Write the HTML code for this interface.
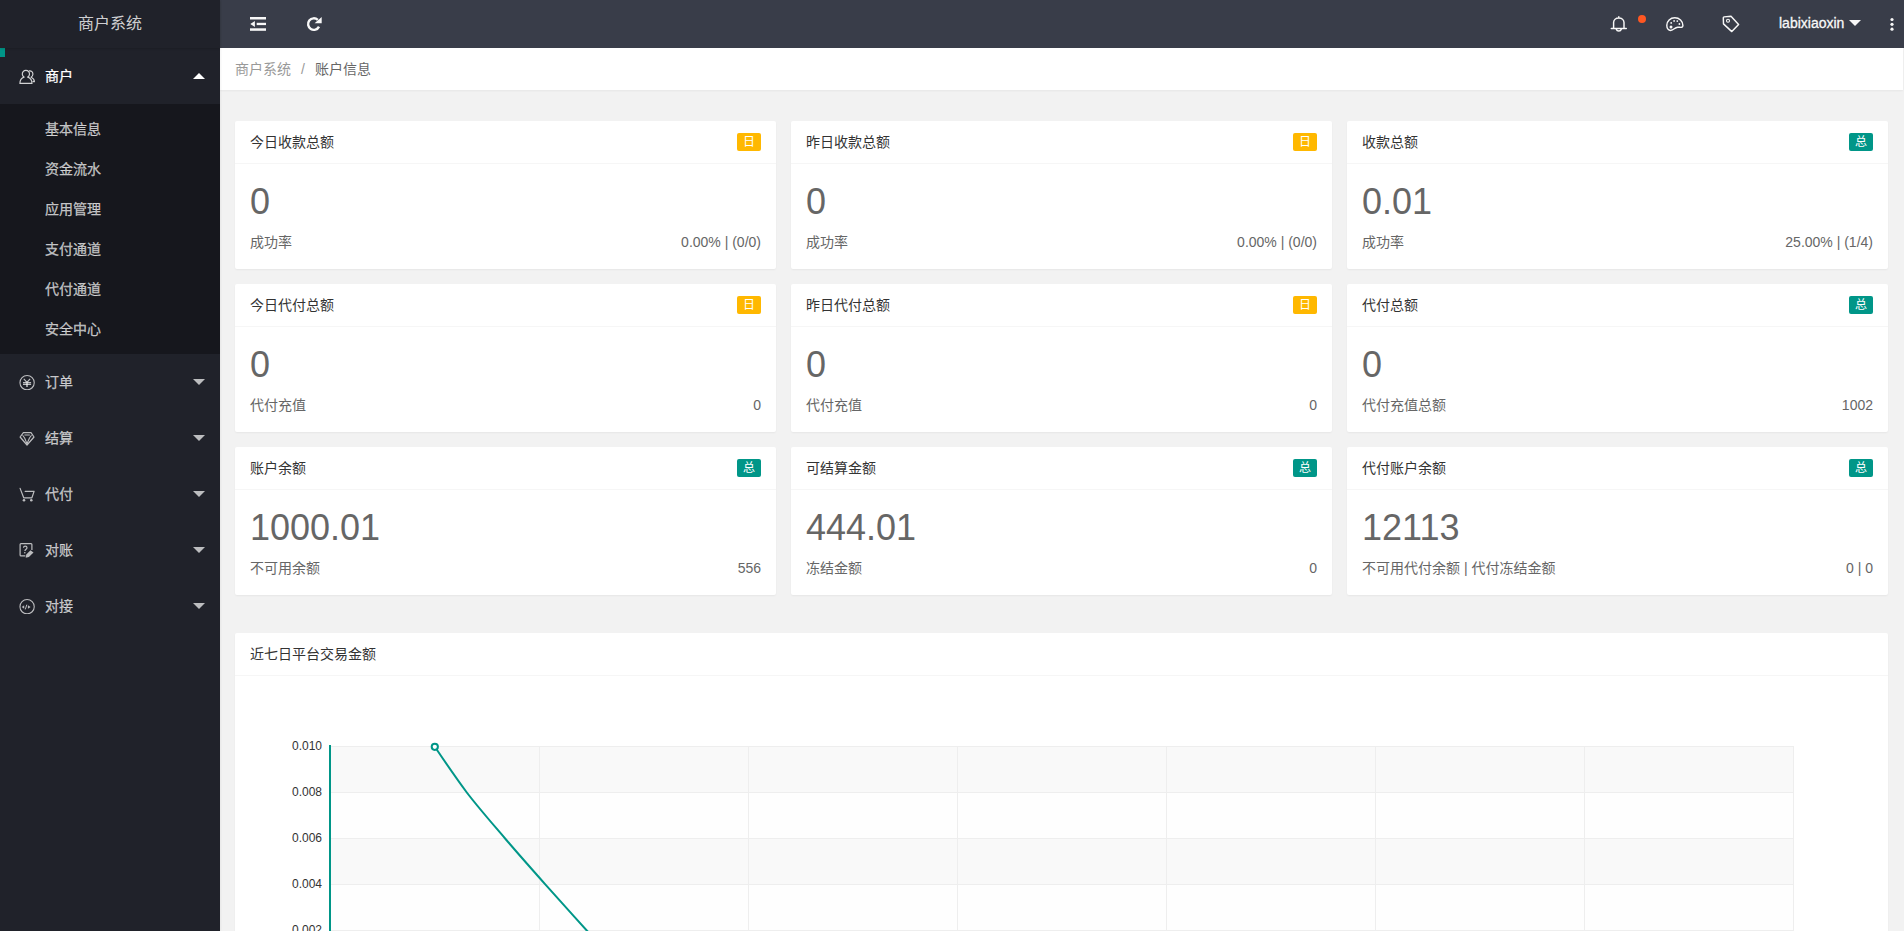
<!DOCTYPE html>
<html lang="zh-CN">
<head>
<meta charset="utf-8">
<title>商户系统</title>
<style>
*{box-sizing:border-box;margin:0;padding:0}
html,body{width:1904px;height:931px;overflow:hidden}
body{font-family:"Liberation Sans","Noto Sans CJK SC",sans-serif;font-size:14px;color:#333;background:#f2f2f2;position:relative;line-height:24px}
a{text-decoration:none;color:inherit}
ul{list-style:none}
/* sidebar */
.side{-webkit-text-stroke:0.25px;box-shadow:1px 0 2px 0 rgba(0,0,0,.05);position:absolute;left:0;top:0;width:220px;height:931px;background:#20222A;color:rgba(255,255,255,.7);z-index:5}
.logo{-webkit-text-stroke:0;position:absolute;left:0;top:0;width:220px;height:48px;line-height:48px;text-align:center;color:rgba(255,255,255,.8);font-size:16px;background:#20222A;box-shadow:0 1px 2px 0 rgba(0,0,0,.15);z-index:2}
.navbar{position:absolute;left:0;top:48px;width:5px;height:9px;background:#009688}
.menu{position:absolute;left:0;top:48px;width:220px}
.menu .item>a{display:block;position:relative;height:56px;line-height:56px;padding-left:45px;color:rgba(255,255,255,.7)}
.menu .item.open>a{color:#fff}
.menu .item>a svg{position:absolute;left:19px;top:20px;width:16px;height:16px}
.more{position:absolute;right:15px;top:50%;margin-top:-3px;width:0;height:0;border:6px solid transparent;border-top-color:rgba(255,255,255,.7)}
.open .more{margin-top:-9px;border-top-color:transparent;border-bottom-color:#fff}
.sub{background:rgba(0,0,0,.3);padding:5px 0}
.sub a{display:block;height:40px;line-height:40px;padding-left:45px;color:rgba(255,255,255,.7)}
/* header */
.header{position:absolute;left:220px;top:0;width:1684px;height:48px;background:#393D49;color:#f8f8f8}
.header svg{position:absolute}
.uname{-webkit-text-stroke:0.3px;position:absolute;left:1559px;top:0;line-height:46px;font-size:14px;color:#f8f8f8}
.utri{position:absolute;left:1629px;top:20px;width:0;height:0;border:6px solid transparent;border-top-color:#f8f8f8}
.dot{position:absolute;left:1418px;top:15px;width:8px;height:8px;border-radius:50%;background:#FF5722}
/* breadcrumb */
.crumb{position:absolute;left:220px;top:48px;width:1683px;height:42px;line-height:42px;background:#fff;padding-left:15px;box-shadow:0 1px 2px 0 rgba(0,0,0,.05);color:#999}
.crumb span.sep{margin:0 10px;color:#999}
.crumb cite{font-style:normal;color:#666}
/* cards */
.card{position:absolute;width:541px;height:148px;background:#fff;border-radius:2px;box-shadow:0 1px 2px 0 rgba(0,0,0,.05)}
.card .hd{position:relative;height:43px;line-height:42px;padding:0 15px;border-bottom:1px solid #f6f6f6;color:#333;font-size:14px}
.badge{position:absolute;right:15px;top:50%;margin-top:-9px;height:18px;line-height:18px;padding:0 6px;font-size:12px;color:#fff;border-radius:2px;text-align:center}
.bg-o{background:#FFB800}
.bg-g{background:#009688}
.card .bd{position:relative;padding:15px;line-height:24px}
.big{font-size:36px;color:#666;line-height:36px;padding:5px 0 10px;white-space:nowrap}
.bd p.sm{color:#666}
.bd p.sm span{position:absolute;right:15px;font-size:14px}
.chart{position:absolute;left:235px;top:633px;width:1653px;height:330px;background:#fff;border-radius:2px;box-shadow:0 1px 2px 0 rgba(0,0,0,.05)}
.chart .hd{height:43px;line-height:42px;padding:0 15px;border-bottom:1px solid #f6f6f6;color:#333}
.chart svg{position:absolute;left:0;top:43px}
</style>
</head>
<body>
<div class="side">
  <div class="logo">商户系统</div>
  <div class="navbar"></div>
  <ul class="menu">
    <li class="item open"><a><svg viewBox="0 0 16 16" fill="none" stroke="rgba(255,255,255,.8)" stroke-width="1.15" stroke-linejoin="round" stroke-linecap="round"><path d="M5.1 9.1A3.6 3.6 0 1 1 8.7 9.1C11.4 10 13 12.4 13 15.4H0.9C0.9 12.4 2.4 10 5.1 9.1Z"/><path d="M10.3 2.9C12.4 2.6 14 4.2 13.9 6.3C13.8 7.7 13.1 8.7 12.1 9.3C14.1 10.2 15.3 11.7 15.4 13.6H14"/></svg>商户<i class="more"></i></a>
      <div class="sub"><a>基本信息</a><a>资金流水</a><a>应用管理</a><a>支付通道</a><a>代付通道</a><a>安全中心</a></div>
    </li>
    <li class="item"><a><svg viewBox="0 0 16 16" fill="none" stroke="currentColor" stroke-width="1.1"><circle cx="8.1" cy="8.7" r="7.15"/><path d="M4.8 4.9L8 8.3L11.1 4.9M4 8.7H12.1M4 10.4H12.1" stroke-width="1.2"/><path d="M8 8.3V13" stroke-width="1.5"/></svg>订单<i class="more"></i></a></li>
    <li class="item"><a><svg viewBox="0 0 16 16" fill="none" stroke="currentColor" stroke-width="1.2" stroke-linejoin="round"><path d="M4.4 2.7H12L15 7L8 15L1.1 7Z"/><path d="M3.6 5.2L5.6 8L8 13.6L10.5 8L12.5 5.2M5.4 5H10.8" stroke-width="1.1"/></svg>结算<i class="more"></i></a></li>
    <li class="item"><a><svg viewBox="0 0 16 16" fill="none" stroke="currentColor" stroke-width="1.2" stroke-linejoin="round" stroke-linecap="round"><path d="M1.1 2.4L4.7 11.8H12.9L15.1 5.4H6.2"/><circle cx="5" cy="14.2" r="1.3" fill="currentColor" stroke="none"/><circle cx="12.3" cy="14.2" r="1.3" fill="currentColor" stroke="none"/></svg>代付<i class="more"></i></a></li>
    <li class="item"><a><svg viewBox="0 0 16 16" fill="none" stroke="currentColor" stroke-width="1.2" stroke-linejoin="round"><path d="M12.9 8V2.6Q12.9 1.7 12 1.7H2Q1.1 1.7 1.1 2.6V12.9Q1.1 13.8 2 13.8H6.4"/><path d="M11.5 8.3L14.5 10.4L9.9 14.9L6.7 15.8L7.3 12.5Z" fill="currentColor" stroke="none"/><path d="M4.5 5.8C4.5 3.6 8 3.6 8 5.8C8 7.2 6 7.2 5.9 9" stroke-width="1.2"/><circle cx="5.8" cy="10.7" r="0.8" fill="currentColor" stroke="none"/></svg>对账<i class="more"></i></a></li>
    <li class="item"><a><svg viewBox="0 0 16 16" fill="none" stroke="currentColor" stroke-width="1.1"><circle cx="8.1" cy="8.7" r="7.15"/><path d="M5.2 7.3L2.7 9.1L5.2 10.8Z M8.9 7.3L11.6 9.1L8.9 10.8Z" fill="currentColor" stroke="none"/><path d="M7.8 6.7L6.3 11.4" stroke-width="1"/></svg>对接<i class="more"></i></a></li>
  </ul>
</div>
<div class="header">
<svg width="1684" height="48" viewBox="220 0 1684 48" style="left:0;top:0" fill="none" stroke="#f8f8f8">
  <g fill="#f8f8f8" stroke="none">
    <rect x="250" y="17" width="16" height="2.5"/><rect x="256.7" y="22.8" width="9.3" height="2.3"/><rect x="250" y="28.3" width="16" height="2.5"/>
    <path d="M250.3 24L254.9 21V27Z"/>
    <path d="M321.7 17.1V23.3H314.6Z"/>
    <circle cx="1892" cy="19.5" r="1.6"/><circle cx="1892" cy="24.3" r="1.6"/><circle cx="1892" cy="29.2" r="1.6"/>
    <circle cx="1671.2" cy="22.9" r="0.9"/><circle cx="1674.1" cy="20.9" r="0.9"/><circle cx="1677.3" cy="21.1" r="0.9"/><circle cx="1679.4" cy="24" r="0.9"/><circle cx="1671" cy="26.9" r="1.5"/>
  </g>
  <path d="M317.8 19.9A5.75 5.75 0 1 0 319 26.6" stroke-width="2.4"/>
  <g stroke-width="1.45" stroke-linejoin="round" stroke-linecap="round">
    <path d="M1611.3 28.4H1626.3M1613.6 28.4V22.6C1613.6 19.8 1615.9 18 1618.8 18C1621.7 18 1624 19.8 1624 22.6V28.4M1618.8 18V16.8M1616.3 29.2A2.6 2.6 0 0 0 1621.3 29.2"/>
    <path d="M1682.900 25.500C1682.900 21 1679.300 17.700 1674.800 17.700C1670.300 17.700 1666.800 21.200 1666.800 25.300C1666.800 28.300 1668.600 30.400 1670.600 30.400C1674 30.400 1674.400 27.400 1677.700 27.200C1680 27.100 1682.900 28.300 1682.900 25.500Z"/>
    <path d="M1724.200 16.900L1731 16.300L1738.600 24.400L1731.800 31.600L1723.500 23.900L1723.300 17.800Q1723.300 17 1724.200 16.900Z"/>
    <circle cx="1728" cy="20.800" r="1.500" stroke-width="1.100"/>
  </g>
</svg>
  <span class="dot"></span>
  <span class="uname">labixiaoxin</span><i class="utri"></i>
</div>
<div class="crumb">商户系统<span class="sep">/</span><cite>账户信息</cite></div>

<div class="card" style="left:235px;top:121px"><div class="hd">今日收款总额<span class="badge bg-o">日</span></div><div class="bd"><p class="big">0</p><p class="sm">成功率<span>0.00% | (0/0)</span></p></div></div>
<div class="card" style="left:791px;top:121px"><div class="hd">昨日收款总额<span class="badge bg-o">日</span></div><div class="bd"><p class="big">0</p><p class="sm">成功率<span>0.00% | (0/0)</span></p></div></div>
<div class="card" style="left:1347px;top:121px"><div class="hd">收款总额<span class="badge bg-g">总</span></div><div class="bd"><p class="big">0.01</p><p class="sm">成功率<span>25.00% | (1/4)</span></p></div></div>

<div class="card" style="left:235px;top:284px"><div class="hd">今日代付总额<span class="badge bg-o">日</span></div><div class="bd"><p class="big">0</p><p class="sm">代付充值<span>0</span></p></div></div>
<div class="card" style="left:791px;top:284px"><div class="hd">昨日代付总额<span class="badge bg-o">日</span></div><div class="bd"><p class="big">0</p><p class="sm">代付充值<span>0</span></p></div></div>
<div class="card" style="left:1347px;top:284px"><div class="hd">代付总额<span class="badge bg-g">总</span></div><div class="bd"><p class="big">0</p><p class="sm">代付充值总额<span>1002</span></p></div></div>

<div class="card" style="left:235px;top:447px"><div class="hd">账户余额<span class="badge bg-g">总</span></div><div class="bd"><p class="big">1000.01</p><p class="sm">不可用余额<span>556</span></p></div></div>
<div class="card" style="left:791px;top:447px"><div class="hd">可结算金额<span class="badge bg-g">总</span></div><div class="bd"><p class="big">444.01</p><p class="sm">冻结金额<span>0</span></p></div></div>
<div class="card" style="left:1347px;top:447px"><div class="hd">代付账户余额<span class="badge bg-g">总</span></div><div class="bd"><p class="big">12113</p><p class="sm">不可用代付余额 | 代付冻结金额<span>0 | 0</span></p></div></div>

<div class="chart"><div class="hd">近七日平台交易金额</div>
<svg width="1653" height="260" viewBox="235 676 1653 260" font-family="Liberation Sans, sans-serif" font-size="12" fill="#333">
  
  <rect x="330" y="746" width="1464" height="46" fill="#f9f9f9"/>
  <rect x="330" y="792" width="1464" height="46" fill="#fefefe"/>
  <rect x="330" y="838" width="1464" height="46" fill="#f9f9f9"/>
  <rect x="330" y="884" width="1464" height="46" fill="#fefefe"/>
  <rect x="330" y="930" width="1464" height="46" fill="#f9f9f9"/>
  <path d="M330 746.5H1794" stroke="#eee" stroke-width="1" fill="none"/>
  <path d="M330 792.5H1794" stroke="#eee" stroke-width="1" fill="none"/>
  <path d="M330 838.5H1794" stroke="#eee" stroke-width="1" fill="none"/>
  <path d="M330 884.5H1794" stroke="#eee" stroke-width="1" fill="none"/>
  <path d="M330 930.5H1794" stroke="#eee" stroke-width="1" fill="none"/>
  <path d="M539.5 746V940" stroke="#eee" stroke-width="1" fill="none"/>
  <path d="M748.5 746V940" stroke="#eee" stroke-width="1" fill="none"/>
  <path d="M957.5 746V940" stroke="#eee" stroke-width="1" fill="none"/>
  <path d="M1166.5 746V940" stroke="#eee" stroke-width="1" fill="none"/>
  <path d="M1375.5 746V940" stroke="#eee" stroke-width="1" fill="none"/>
  <path d="M1584.5 746V940" stroke="#eee" stroke-width="1" fill="none"/>
  <path d="M1793.5 746V940" stroke="#eee" stroke-width="1" fill="none"/>
  <path d="M330 745V940" stroke="#009688" stroke-width="2" fill="none"/>
  <text x="322" y="749.6" text-anchor="end">0.010</text>
  <text x="322" y="795.6" text-anchor="end">0.008</text>
  <text x="322" y="841.6" text-anchor="end">0.006</text>
  <text x="322" y="887.6" text-anchor="end">0.004</text>
  <text x="322" y="933.6" text-anchor="end">0.002</text>
  <path d="M434.8 746.8C445.2 762.1 455.6 777.4 466.8 792.5C478.5 807.8 492.0 823.1 505.1 838.5C518.2 853.9 531.8 869.2 545.5 884.6C559.2 900.0 573.2 915.6 587.2 931C601.2 946.4 615.5 961.7 629.7 977" stroke="#009688" stroke-width="2" fill="none"/>
  <circle cx="434.8" cy="746.8" r="3.1" fill="#fff" stroke="#009688" stroke-width="2"/>

</svg>
</div>
</body>
</html>
